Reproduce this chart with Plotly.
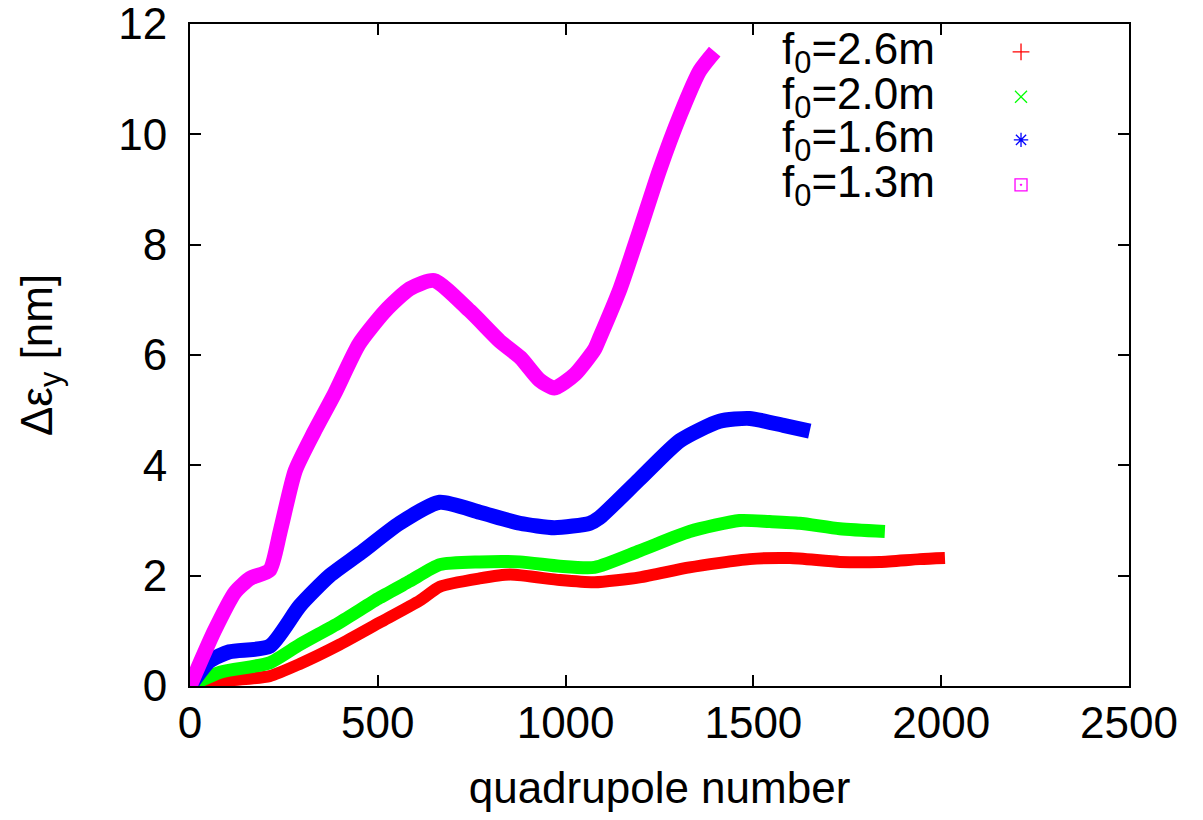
import plotly.graph_objects as go

# Data (quadrupole number, delta emittance in nm)
x_26 = [0, 106, 212, 292, 398, 505, 612, 665, 771, 852, 985, 1077, 1197, 1330, 1490, 1597, 1730, 1837, 1943, 2010]
y_26 = [0, 0.10, 0.18, 0.40, 0.75, 1.15, 1.55, 1.80, 1.95, 2.02, 1.92, 1.88, 1.97, 2.15, 2.30, 2.32, 2.25, 2.25, 2.30, 2.32]

x_20 = [0, 80, 212, 292, 398, 505, 585, 665, 771, 878, 985, 1077, 1197, 1330, 1463, 1543, 1623, 1730, 1850]
y_20 = [0, 0.25, 0.42, 0.75, 1.15, 1.60, 1.90, 2.20, 2.25, 2.25, 2.17, 2.15, 2.45, 2.80, 3.00, 2.98, 2.95, 2.85, 2.80]

x_16 = [0, 52, 105, 212, 292, 372, 452, 558, 665, 771, 878, 970, 1064, 1090, 1197, 1305, 1410, 1490, 1583, 1650]
y_16 = [0, 0.45, 0.62, 0.72, 1.45, 2.00, 2.40, 2.95, 3.33, 3.15, 2.95, 2.87, 2.95, 3.05, 3.75, 4.45, 4.80, 4.85, 4.72, 4.62]

x_13 = [0, 65, 120, 160, 212, 240, 280, 330, 385, 450, 520, 585, 650, 745, 825, 880, 930, 970, 1025, 1077, 1090, 1145, 1197, 1250, 1305, 1357, 1397]
y_13 = [0, 1.0, 1.7, 1.95, 2.1, 2.8, 3.9, 4.6, 5.3, 6.2, 6.8, 7.2, 7.35, 6.8, 6.25, 5.95, 5.55, 5.40, 5.65, 6.1, 6.3, 7.2, 8.25, 9.35, 10.35, 11.15, 11.5]

labels = ["f<sub>0</sub>=2.6m", "f<sub>0</sub>=2.0m", "f<sub>0</sub>=1.6m", "f<sub>0</sub>=1.3m"]
colors = ["#ff0000", "#00ff00", "#0000ff", "#ff00ff"]
symbols = ["cross-thin-open", "x-thin-open", "asterisk-open", "square-open-dot"]
xs = [x_26, x_20, x_16, x_13]
ys = [y_26, y_20, y_16, y_13]
widths = [12, 13, 15, 15]

FONT = "Liberation Sans, Arial, sans-serif"
FS = 44

fig = go.Figure()
for xv, yv, c, w in zip(xs, ys, colors, widths):
    fig.add_trace(go.Scatter(x=xv, y=yv, mode="lines",
                             line=dict(color=c, width=w, shape="spline", smoothing=0.6),
                             showlegend=False, hoverinfo="skip"))

# gnuplot-style key: text then symbol, drawn on an overlay axis in [0,1]
key_y = [0.958, 0.890, 0.825, 0.757]
for i in range(4):
    fig.add_trace(go.Scatter(x=[0.885], y=[key_y[i]], mode="markers", xaxis="x2", yaxis="y2",
                             marker=dict(symbol=symbols[i], size=12, color=colors[i],
                                         line=dict(color=colors[i], width=1.3)),
                             showlegend=False, hoverinfo="skip"))
    fig.add_annotation(x=0.795, y=key_y[i], xref="paper", yref="paper",
                       text=labels[i], showarrow=False, xanchor="right", yanchor="middle",
                       font=dict(family=FONT, size=FS, color="black"))

axis_common = dict(showline=True, linecolor="black", linewidth=2, mirror="allticks",
                   ticks="inside", ticklen=11, tickwidth=2, tickcolor="black",
                   showgrid=False, zeroline=False, automargin=False,
                   ticklabeloverflow="allow",
                   tickfont=dict(family=FONT, size=FS, color="black"))

fig.update_layout(
    width=1187, height=804,
    margin=dict(l=182, r=66, t=16, b=126),
    plot_bgcolor="white", paper_bgcolor="white",
    xaxis=dict(range=[0, 2500], tickvals=[0, 500, 1000, 1500, 2000, 2500],
               title=dict(text="quadrupole number", font=dict(family=FONT, size=FS, color="black"), standoff=35),
               ticklabelstandoff=-3, **axis_common),
    yaxis=dict(range=[0, 12], tickvals=[0, 2, 4, 6, 8, 10, 12],
               title=dict(text="Δε<sub>y</sub> [nm]", font=dict(family=FONT, size=FS, color="black"), standoff=52),
               ticklabelstandoff=12, **axis_common),
    xaxis2=dict(range=[0, 1], overlaying="x", visible=False),
    yaxis2=dict(range=[0, 1], overlaying="y", visible=False),
    showlegend=False,
)

fig.write_html("out.html")
